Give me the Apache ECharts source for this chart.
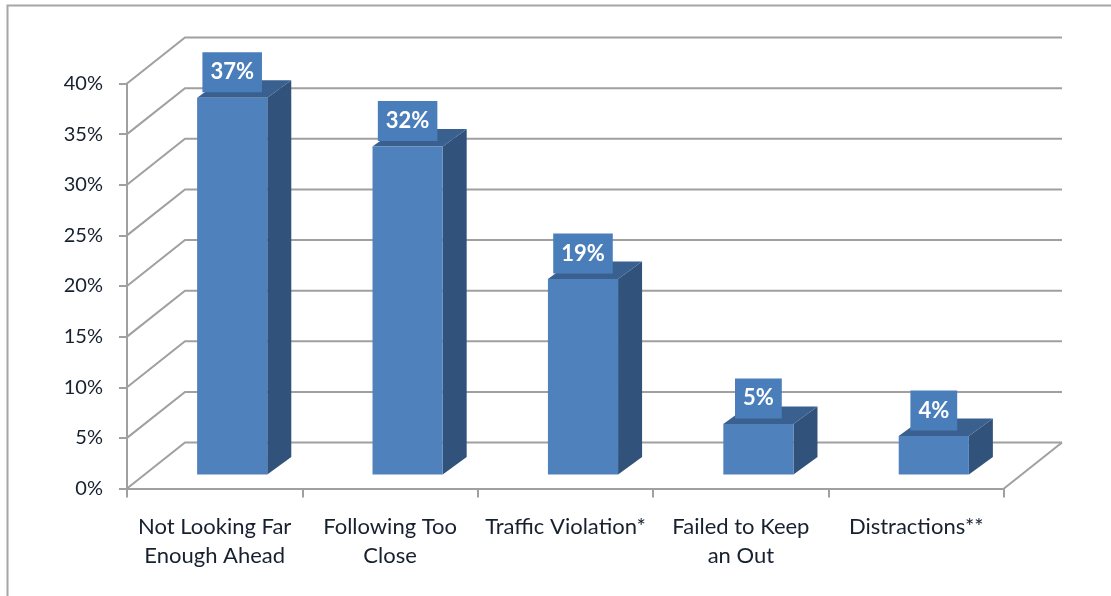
<!DOCTYPE html>
<html>
<head>
<meta charset="utf-8">
<style>
  html, body { margin: 0; padding: 0; background: #fff; }
  /* the source is a soft screenshot */
  #main { width: 1111px; height: 596px; filter: blur(0.45px); }
</style>
<script src="https://cdn.jsdelivr.net/npm/echarts@6/dist/echarts.min.js"></script>
</head>
<body>
<div id="main"></div>
<script>
var categories = ['Not Looking Far\nEnough Ahead', 'Following Too\nClose', 'Traffic Violation*', 'Failed to Keep\nan Out', 'Distractions**'];
// the labels show them rounded
var values = [37.2, 32.4, 19.3, 5, 3.8];
var yTicks = [0, 5, 10, 15, 20, 25, 30, 35, 40];

var FONT = 'Lato, "Open Sans", sans-serif';
var TEXT = '#16202e';
var GRID = '#a0a0a0';
// floor depth in px, and where the bar sits inside it
var DEPTH_X = 58, DEPTH_Y = 46;
var BAR_SHIFT_X = 17.5, BAR_SHIFT_Y = 14;
var BAR_DX = 24, BAR_DY = 17.5;

var myChart = echarts.init(document.getElementById('main'));

// walls: each tick is a slanted line on the side wall and a line on the back wall
function renderWall(params, api) {
  var cs = params.coordSys;
  var p = api.coord([0, api.value(1)]);
  var x0 = cs.x, y = p[1];
  var children = [{
    type: 'polyline',
    shape: { points: [[x0, y], [x0 + DEPTH_X, y - DEPTH_Y], [x0 + cs.width + DEPTH_X, y - DEPTH_Y]] },
    style: { fill: 'none', stroke: GRID, lineWidth: 2 }
  }];
  if (api.value(1) === 0) {
    children.push({
      type: 'line',
      shape: { x1: x0 + cs.width, y1: y, x2: x0 + cs.width + DEPTH_X, y2: y - DEPTH_Y },
      style: { stroke: GRID, lineWidth: 2 }
    });
  }
  return { type: 'group', children: children };
}

function renderBar(params, api) {
  var top = api.coord([api.value(0), api.value(1)]);
  var base = api.coord([api.value(0), 0]);
  var w = api.size([1, 0])[0] * 0.4;
  var l = top[0] - w / 2 + BAR_SHIFT_X, r = l + w;
  var t = top[1] - BAR_SHIFT_Y, b = base[1] - BAR_SHIFT_Y;
  return {
    type: 'group',
    children: [
      {
        type: 'polygon',
        shape: { points: [[r, t], [r + BAR_DX, t - BAR_DY], [r + BAR_DX, b - BAR_DY], [r, b]] },
        style: { fill: '#31527a' }
      },
      {
        type: 'polygon',
        shape: { points: [[l, t], [l + BAR_DX, t - BAR_DY], [r + BAR_DX, t - BAR_DY], [r, t]] },
        style: { fill: '#3a6090' }
      },
      {
        type: 'rect',
        shape: { x: l, y: t, width: w, height: b - t },
        style: { fill: '#4f81bd' }
      },
      {
        type: 'text',
        style: {
          text: Math.round(api.value(1)) + '%',
          x: l + w / 2,
          y: t - 25.5,
          align: 'center',
          verticalAlign: 'middle',
          fill: '#fff',
          font: 'bold 22px ' + FONT,
          backgroundColor: '#4a7ebb',
          padding: [9, 8, 9, 8]
        }
      }
    ]
  };
}

var option = {
  backgroundColor: '#fff',
  animation: false,
  graphic: [{
    type: 'polyline',
    shape: { points: [[7.5, 596], [7.5, 5.5], [1111, 5.5]] },
    style: { fill: 'none', stroke: '#a6a6a6', lineWidth: 2 }
  }],
  grid: { left: 127, right: 107, top: 83.5, bottom: 107.5 },
  xAxis: {
    type: 'category',
    data: categories,
    axisLine: { lineStyle: { color: GRID, width: 2 } },
    axisTick: { show: true, length: 9, lineStyle: { color: GRID, width: 2 } },
    axisLabel: { color: TEXT, fontFamily: FONT, fontSize: 22, lineHeight: 29, interval: 0, margin: 24 }
  },
  yAxis: {
    type: 'value',
    min: 0,
    max: 40,
    interval: 5,
    axisLine: { show: true, lineStyle: { color: GRID, width: 2 } },
    axisTick: { show: true, length: 8, lineStyle: { color: GRID, width: 2 } },
    splitLine: { show: false },
    axisLabel: { color: TEXT, fontFamily: FONT, fontSize: 20, margin: 24, padding: [5, 0, 0, 0], formatter: '{value}%' }
  },
  series: [
    {
      type: 'custom',
      silent: true,
      renderItem: renderWall,
      data: yTicks.map(function (v) { return [0, v]; }),
      encode: { x: 0, y: 1 },
      z: 1
    },
    {
      type: 'custom',
      silent: true,
      renderItem: renderBar,
      data: values.map(function (v, i) { return [i, v]; }),
      encode: { x: 0, y: 1 },
      z: 3
    }
  ]
};

myChart.setOption(option);
</script>
</body>
</html>
